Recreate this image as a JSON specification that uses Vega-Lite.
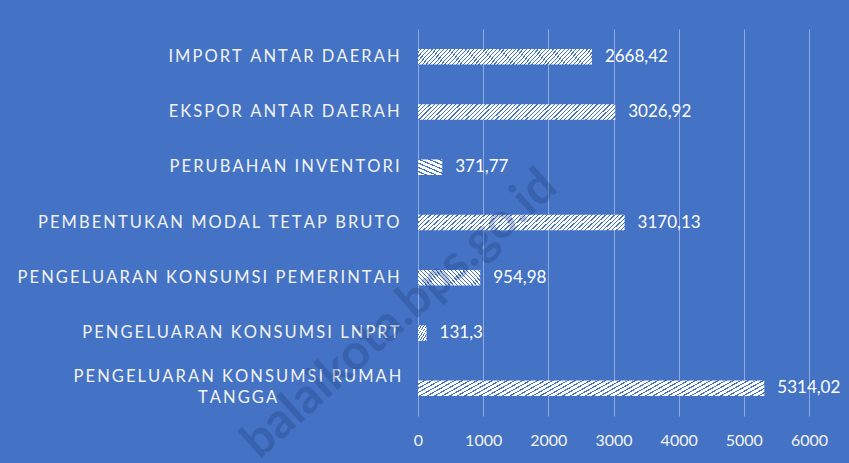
{
  "$schema": "https://vega.github.io/schema/vega-lite/v6.json",
  "width": 391,
  "height": 387,
  "autosize": {"type": "none"},
  "padding": {"left": 418, "top": 29, "right": 40, "bottom": 47},
  "background": "#4472c4",
  "config": {
    "view": {"stroke": null},
    "font": "Lato",
    "locale": {"number": {"decimal": ",", "thousands": ".", "grouping": [3], "currency": ["", ""]}}
  },
  "data": {
    "values": [
      {"category": "IMPORT ANTAR DAERAH", "value": 2668.42},
      {"category": "EKSPOR ANTAR DAERAH", "value": 3026.92},
      {"category": "PERUBAHAN INVENTORI", "value": 371.77},
      {"category": "PEMBENTUKAN MODAL TETAP BRUTO", "value": 3170.13},
      {"category": "PENGELUARAN KONSUMSI PEMERINTAH", "value": 954.98},
      {"category": "PENGELUARAN KONSUMSI LNPRT", "value": 131.3},
      {"category": "PENGELUARAN KONSUMSI RUMAH TANGGA", "value": 5314.02}
    ]
  },
  "layer": [
    {
      "mark": {
        "type": "bar",
        "fill": {
          "gradient": "linear", "x1": 0, "y1": 0, "x2": 1.08, "y2": 0.0864,
          "stops": [
            {"offset":0,"color":"#fff"},{"offset":0.014,"color":"#fff"},{"offset":0.014,"color":"#4472c4"},{"offset":0.02,"color":"#4472c4"},
            {"offset":0.02,"color":"#fff"},{"offset":0.034,"color":"#fff"},{"offset":0.034,"color":"#4472c4"},{"offset":0.04,"color":"#4472c4"},
            {"offset":0.04,"color":"#fff"},{"offset":0.054,"color":"#fff"},{"offset":0.054,"color":"#4472c4"},{"offset":0.06,"color":"#4472c4"},
            {"offset":0.06,"color":"#fff"},{"offset":0.074,"color":"#fff"},{"offset":0.074,"color":"#4472c4"},{"offset":0.08,"color":"#4472c4"},
            {"offset":0.08,"color":"#fff"},{"offset":0.094,"color":"#fff"},{"offset":0.094,"color":"#4472c4"},{"offset":0.1,"color":"#4472c4"},
            {"offset":0.1,"color":"#fff"},{"offset":0.114,"color":"#fff"},{"offset":0.114,"color":"#4472c4"},{"offset":0.12,"color":"#4472c4"},
            {"offset":0.12,"color":"#fff"},{"offset":0.134,"color":"#fff"},{"offset":0.134,"color":"#4472c4"},{"offset":0.14,"color":"#4472c4"},
            {"offset":0.14,"color":"#fff"},{"offset":0.154,"color":"#fff"},{"offset":0.154,"color":"#4472c4"},{"offset":0.16,"color":"#4472c4"},
            {"offset":0.16,"color":"#fff"},{"offset":0.174,"color":"#fff"},{"offset":0.174,"color":"#4472c4"},{"offset":0.18,"color":"#4472c4"},
            {"offset":0.18,"color":"#fff"},{"offset":0.194,"color":"#fff"},{"offset":0.194,"color":"#4472c4"},{"offset":0.2,"color":"#4472c4"},
            {"offset":0.2,"color":"#fff"},{"offset":0.214,"color":"#fff"},{"offset":0.214,"color":"#4472c4"},{"offset":0.22,"color":"#4472c4"},
            {"offset":0.22,"color":"#fff"},{"offset":0.234,"color":"#fff"},{"offset":0.234,"color":"#4472c4"},{"offset":0.24,"color":"#4472c4"},
            {"offset":0.24,"color":"#fff"},{"offset":0.254,"color":"#fff"},{"offset":0.254,"color":"#4472c4"},{"offset":0.26,"color":"#4472c4"},
            {"offset":0.26,"color":"#fff"},{"offset":0.274,"color":"#fff"},{"offset":0.274,"color":"#4472c4"},{"offset":0.28,"color":"#4472c4"},
            {"offset":0.28,"color":"#fff"},{"offset":0.294,"color":"#fff"},{"offset":0.294,"color":"#4472c4"},{"offset":0.3,"color":"#4472c4"},
            {"offset":0.3,"color":"#fff"},{"offset":0.314,"color":"#fff"},{"offset":0.314,"color":"#4472c4"},{"offset":0.32,"color":"#4472c4"},
            {"offset":0.32,"color":"#fff"},{"offset":0.334,"color":"#fff"},{"offset":0.334,"color":"#4472c4"},{"offset":0.34,"color":"#4472c4"},
            {"offset":0.34,"color":"#fff"},{"offset":0.354,"color":"#fff"},{"offset":0.354,"color":"#4472c4"},{"offset":0.36,"color":"#4472c4"},
            {"offset":0.36,"color":"#fff"},{"offset":0.374,"color":"#fff"},{"offset":0.374,"color":"#4472c4"},{"offset":0.38,"color":"#4472c4"},
            {"offset":0.38,"color":"#fff"},{"offset":0.394,"color":"#fff"},{"offset":0.394,"color":"#4472c4"},{"offset":0.4,"color":"#4472c4"},
            {"offset":0.4,"color":"#fff"},{"offset":0.414,"color":"#fff"},{"offset":0.414,"color":"#4472c4"},{"offset":0.42,"color":"#4472c4"},
            {"offset":0.42,"color":"#fff"},{"offset":0.434,"color":"#fff"},{"offset":0.434,"color":"#4472c4"},{"offset":0.44,"color":"#4472c4"},
            {"offset":0.44,"color":"#fff"},{"offset":0.454,"color":"#fff"},{"offset":0.454,"color":"#4472c4"},{"offset":0.46,"color":"#4472c4"},
            {"offset":0.46,"color":"#fff"},{"offset":0.474,"color":"#fff"},{"offset":0.474,"color":"#4472c4"},{"offset":0.48,"color":"#4472c4"},
            {"offset":0.48,"color":"#fff"},{"offset":0.494,"color":"#fff"},{"offset":0.494,"color":"#4472c4"},{"offset":0.5,"color":"#4472c4"},
            {"offset":0.5,"color":"#fff"},{"offset":0.514,"color":"#fff"},{"offset":0.514,"color":"#4472c4"},{"offset":0.52,"color":"#4472c4"},
            {"offset":0.52,"color":"#fff"},{"offset":0.534,"color":"#fff"},{"offset":0.534,"color":"#4472c4"},{"offset":0.54,"color":"#4472c4"},
            {"offset":0.54,"color":"#fff"},{"offset":0.554,"color":"#fff"},{"offset":0.554,"color":"#4472c4"},{"offset":0.56,"color":"#4472c4"},
            {"offset":0.56,"color":"#fff"},{"offset":0.574,"color":"#fff"},{"offset":0.574,"color":"#4472c4"},{"offset":0.58,"color":"#4472c4"},
            {"offset":0.58,"color":"#fff"},{"offset":0.594,"color":"#fff"},{"offset":0.594,"color":"#4472c4"},{"offset":0.6,"color":"#4472c4"},
            {"offset":0.6,"color":"#fff"},{"offset":0.614,"color":"#fff"},{"offset":0.614,"color":"#4472c4"},{"offset":0.62,"color":"#4472c4"},
            {"offset":0.62,"color":"#fff"},{"offset":0.634,"color":"#fff"},{"offset":0.634,"color":"#4472c4"},{"offset":0.64,"color":"#4472c4"},
            {"offset":0.64,"color":"#fff"},{"offset":0.654,"color":"#fff"},{"offset":0.654,"color":"#4472c4"},{"offset":0.66,"color":"#4472c4"},
            {"offset":0.66,"color":"#fff"},{"offset":0.674,"color":"#fff"},{"offset":0.674,"color":"#4472c4"},{"offset":0.68,"color":"#4472c4"},
            {"offset":0.68,"color":"#fff"},{"offset":0.694,"color":"#fff"},{"offset":0.694,"color":"#4472c4"},{"offset":0.7,"color":"#4472c4"},
            {"offset":0.7,"color":"#fff"},{"offset":0.714,"color":"#fff"},{"offset":0.714,"color":"#4472c4"},{"offset":0.72,"color":"#4472c4"},
            {"offset":0.72,"color":"#fff"},{"offset":0.734,"color":"#fff"},{"offset":0.734,"color":"#4472c4"},{"offset":0.74,"color":"#4472c4"},
            {"offset":0.74,"color":"#fff"},{"offset":0.754,"color":"#fff"},{"offset":0.754,"color":"#4472c4"},{"offset":0.76,"color":"#4472c4"},
            {"offset":0.76,"color":"#fff"},{"offset":0.774,"color":"#fff"},{"offset":0.774,"color":"#4472c4"},{"offset":0.78,"color":"#4472c4"},
            {"offset":0.78,"color":"#fff"},{"offset":0.794,"color":"#fff"},{"offset":0.794,"color":"#4472c4"},{"offset":0.8,"color":"#4472c4"},
            {"offset":0.8,"color":"#fff"},{"offset":0.814,"color":"#fff"},{"offset":0.814,"color":"#4472c4"},{"offset":0.82,"color":"#4472c4"},
            {"offset":0.82,"color":"#fff"},{"offset":0.834,"color":"#fff"},{"offset":0.834,"color":"#4472c4"},{"offset":0.84,"color":"#4472c4"},
            {"offset":0.84,"color":"#fff"},{"offset":0.854,"color":"#fff"},{"offset":0.854,"color":"#4472c4"},{"offset":0.86,"color":"#4472c4"},
            {"offset":0.86,"color":"#fff"},{"offset":0.874,"color":"#fff"},{"offset":0.874,"color":"#4472c4"},{"offset":0.88,"color":"#4472c4"},
            {"offset":0.88,"color":"#fff"},{"offset":0.894,"color":"#fff"},{"offset":0.894,"color":"#4472c4"},{"offset":0.9,"color":"#4472c4"},
            {"offset":0.9,"color":"#fff"},{"offset":0.914,"color":"#fff"},{"offset":0.914,"color":"#4472c4"},{"offset":0.92,"color":"#4472c4"},
            {"offset":0.92,"color":"#fff"},{"offset":0.934,"color":"#fff"},{"offset":0.934,"color":"#4472c4"},{"offset":0.94,"color":"#4472c4"},
            {"offset":0.94,"color":"#fff"},{"offset":0.954,"color":"#fff"},{"offset":0.954,"color":"#4472c4"},{"offset":0.96,"color":"#4472c4"},
            {"offset":0.96,"color":"#fff"},{"offset":0.974,"color":"#fff"},{"offset":0.974,"color":"#4472c4"},{"offset":0.98,"color":"#4472c4"},
            {"offset":0.98,"color":"#fff"},{"offset":0.994,"color":"#fff"},{"offset":0.994,"color":"#4472c4"},{"offset":1,"color":"#4472c4"}
          ]
        }
      },
      "encoding": {
        "y": {
          "field": "category",
          "type": "nominal",
          "sort": null,
          "scale": {"paddingInner": 0.72, "paddingOuter": 0.36},
          "axis": {
            "title": null,
            "ticks": false,
            "domain": false,
            "grid": false,
            "labelPadding": {"condition": {"test": "test(/RUMAH TANGGA/, datum.value)", "value": 181}, "value": 19},
            "labelAlign": {"condition": {"test": "test(/RUMAH TANGGA/, datum.value)", "value": "center"}, "value": "right"},
            "labelLimit": 0,
            "labelFont": "Lato",
            "labelFontSize": 16.5,
            "labelColor": "#f2f2f2",
            "labelLineHeight": 21,
            "labelOffset": {"condition": {"test": "test(/RUMAH TANGGA/, datum.value)", "value": -11}, "value": 0},
            "labelExpr": "test(/RUMAH TANGGA/, datum.label) ? [join(split(slice(datum.label, 0, -7), ''), '\u2009'), join(split(slice(datum.label, -6), ''), '\u2009')] : join(split(datum.label, ''), '\u2009')"
          }
        },
        "x": {
          "field": "value",
          "type": "quantitative",
          "scale": {"domain": [0, 6000], "nice": false},
          "axis": {
            "title": null,
            "values": [0, 1000, 2000, 3000, 4000, 5000, 6000],
            "format": "d",
            "grid": true,
            "gridColor": "#d9e2f3",
            "gridOpacity": 0.5,
            "ticks": false,
            "domain": false,
            "labelFlush": false,
            "labelPadding": 16,
            "labelFont": "Lato",
            "labelFontSize": 16,
            "labelColor": "#f2f2f2"
          }
        }
      }
    },
    {
      "mark": {"type": "text", "align": "left", "baseline": "middle", "dx": 13, "font": "Lato", "fontSize": 17, "color": "#ffffff"},
      "encoding": {
        "y": {"field": "category", "type": "nominal", "sort": null},
        "x": {"field": "value", "type": "quantitative"},
        "text": {"field": "value", "type": "quantitative", "format": ".2~f"}
      }
    },
    {
      "data": {"values": [{"site": "balaikota.bps.go.id", "xpos": -268, "ypos": "PENGELUARAN KONSUMSI LNPRT"}]},
      "mark": {"type": "text", "align": "center", "baseline": "middle", "angle": 318, "dx": 12, "dy": -15, "font": "Lato", "fontSize": 49, "fontWeight": "bold", "fill": "#1f3f7a", "fillOpacity": 0.3},
      "encoding": {
        "x": {"field": "xpos", "type": "quantitative"},
        "y": {"field": "ypos", "type": "nominal", "sort": null},
        "text": {"field": "site", "type": "nominal"}
      }
    }
  ]
}
